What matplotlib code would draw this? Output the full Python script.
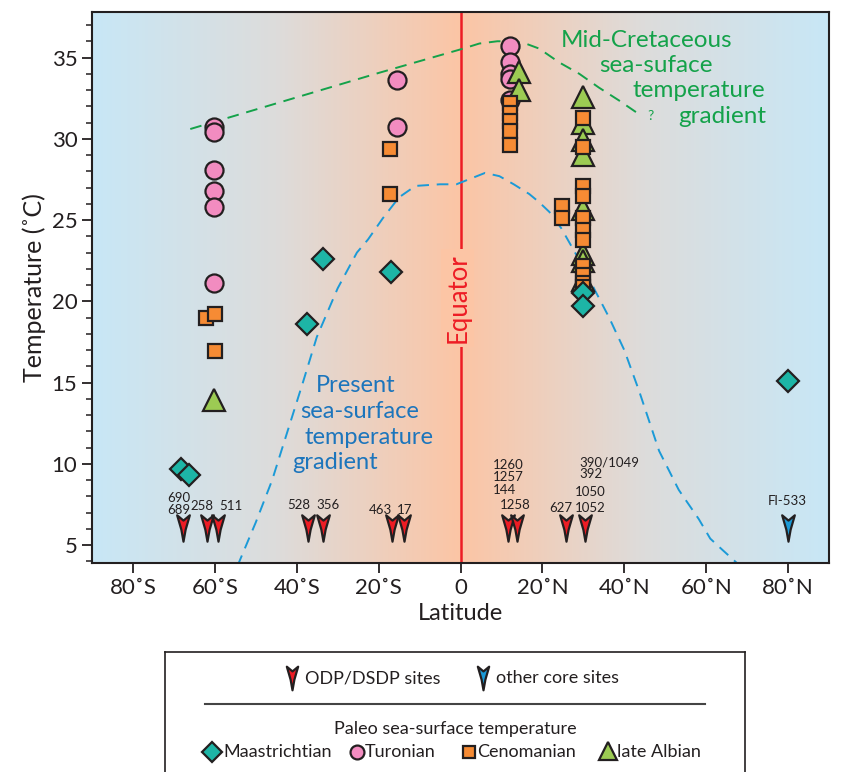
import matplotlib.pyplot as plt
import numpy as np
from matplotlib.colors import LinearSegmentedColormap
from matplotlib.path import Path
from matplotlib.ticker import MultipleLocator

plt.rcParams['font.family'] = ['Lato', 'DejaVu Sans']

# paleo sea-surface temperatures (latitude in deg, + = N)
maas_lat = [-68.2, -66.4, -37.5, -33.6, -17.0, 30.0, 30.0, 79.9]
maas_temp = [9.7, 9.3, 18.6, 22.6, 21.8, 20.5, 19.7, 15.1]

turo_lat = [-60.1, -60.1, -60.1, -60.1, -60.1, -60.1, -15.6, -15.6, 12.0, 12.0, 12.0, 12.0, 12.0]
turo_temp = [30.7, 30.4, 28.1, 26.8, 25.8, 21.1, 33.6, 30.75, 35.7, 34.7, 34.0, 33.7, 32.4]

ceno_lat = [-62.2, -59.9, -59.9, -17.3, -17.3,
            12.0, 12.0, 12.0, 12.0, 12.0, 24.8, 24.8,
            30.0, 30.0, 30.0, 30.0, 30.0, 30.0, 30.0, 30.0, 30.0, 30.0, 30.0]
ceno_temp = [18.95, 19.25, 16.95, 29.4, 26.6,
             32.2, 31.6, 31.1, 30.5, 29.6, 25.85, 25.15,
             31.3, 29.5, 27.1, 26.5, 25.15, 24.4, 23.75, 22.2, 21.6, 21.15, 20.9]

alb_lat = [-60.1, 14.4, 14.4, 30.0, 30.0, 30.0, 30.0, 30.0, 30.0, 30.0, 30.0]
alb_temp = [13.9, 34.1, 33.0, 32.6, 31.0, 29.9, 29.0, 25.7, 22.9, 22.5, 21.3]

# core sites
odp_lat = [-67.8, -61.8, -59.2, -37.2, -33.6, -16.8, -13.9, 11.7, 13.9, 25.8, 30.4]
other_lat = [79.9]
site_temp = 6.05

# gradients
cret_lat = [-66, -40, -20, 0, 4.6, 9, 12.7, 16, 19.2, 24.1, 29, 33.8, 38.7, 43.1]
cret_temp = [30.6, 32.55, 34.05, 35.5, 35.86, 36.0, 36.0, 35.85, 35.55, 34.7, 34.0, 33.15, 32.36, 31.6]

pres_lat = [-54.5, -50, -46, -42, -38.5, -35.1, -30, -25.3, -22.6, -19, -15, -11, -5, -1, 3, 6,
            9.5, 13, 16.8, 19.2, 21.7, 24.6, 27.3, 30, 33, 36.3, 40, 43.6, 48.5, 53.3, 58.2, 61, 64, 67.5]
pres_temp = [3.7, 6.4, 9.0, 12.2, 15.0, 17.8, 20.8, 23.0, 23.8, 25.1, 26.4, 27.1, 27.2, 27.2, 27.6, 27.9,
             27.7, 27.2, 26.6, 26.1, 25.5, 24.5, 23.3, 22.1, 20.6, 19.0, 17.0, 14.5, 10.8, 8.4, 6.6, 5.4, 4.7, 3.9]

xticks = [-80, -60, -40, -20, 0, 20, 40, 60, 80]
xticklabels = ['80˚S', '60˚S', '40˚S', '20˚S', '0', '20˚N', '40˚N', '60˚N', '80˚N']

ink = '#231f20'
c_maas = '#1db5a6'
c_turo = '#f28cc0'
c_ceno = '#f68b34'
c_alb = '#9ccb53'
c_red = '#ed1c24'
c_blue = '#1b9ad7'
c_green = '#14a24a'
c_ptext = '#1c75bc'

site_marker = Path([(-0.24, 0.5), (0, 0.3), (0.24, 0.5), (0.08, -0.05), (0, -0.5), (-0.08, -0.05), (-0.24, 0.5)],
                   [Path.MOVETO, Path.LINETO, Path.LINETO, Path.LINETO, Path.LINETO, Path.LINETO, Path.CLOSEPOLY])

ylo, yhi = 3.9, 37.8

fig = plt.figure(figsize=(8.41, 7.72), dpi=100)
ax = fig.add_axes([92/841, 1-563/772, (829-92)/841, (563-12)/772])

bg = LinearSegmentedColormap.from_list('bg', [(0, '#c8e7f6'), (0.25, '#dddcdb'), (0.5, '#fcc5a5'),
                                              (0.75, '#dddcdb'), (1, '#c8e7f6')])
ax.imshow(np.linspace(0, 1, 500).reshape(1, -1), cmap=bg, extent=[-90, 90, ylo, yhi],
          aspect='auto', zorder=0)

ax.axvline(0, color=c_red, lw=1.8, zorder=1)
ax.text(-0.7, 20.2, 'Equator', rotation=90, color=c_red, fontsize=18.5, ha='center', va='center',
        bbox=dict(facecolor='#fcc5a5', edgecolor='none', pad=3), zorder=2)

ax.plot(cret_lat, cret_temp, color=c_green, lw=1.4, dashes=(6, 4), zorder=2)
ax.plot(pres_lat, pres_temp, color=c_blue, lw=1.4, dashes=(6, 4), zorder=2)

mk = dict(ls='none', mec=ink, mew=1.6)
ax.plot(turo_lat, turo_temp, marker='o', ms=13, mfc=c_turo, zorder=3, **mk)
ax.plot(alb_lat, alb_temp, marker='^', ms=16, mfc=c_alb, zorder=4, **mk)
ax.plot(ceno_lat, ceno_temp, marker='s', ms=10.5, mfc=c_ceno, zorder=5, **mk)
ax.plot(maas_lat, maas_temp, marker='D', ms=11.5, mfc=c_maas, zorder=6, **mk)

ax.plot(odp_lat, [site_temp] * len(odp_lat), marker=site_marker, ms=19, mfc=c_red, zorder=6, **mk)
ax.plot(other_lat, [site_temp] * len(other_lat), marker=site_marker, ms=19, mfc=c_blue, zorder=6, **mk)

site_labels = [('690', -68.9, 7.9, 'center'), ('689', -68.9, 7.15, 'center'),
               ('258', -63.1, 7.4, 'center'), ('511', -56.2, 7.4, 'center'),
               ('528', -39.4, 7.46, 'center'), ('356', -32.4, 7.46, 'center'),
               ('463', -19.5, 7.15, 'center'), ('17', -13.6, 7.15, 'center'),
               ('1260', 7.8, 9.9, 'left'), ('1257', 7.8, 9.2, 'left'), ('144', 7.8, 8.4, 'left'),
               ('1258', 13.4, 7.46, 'center'),
               ('390/1049', 29.0, 10.1, 'left'), ('392', 29.0, 9.37, 'left'),
               ('1050', 31.7, 8.26, 'center'), ('627', 24.6, 7.3, 'center'),
               ('1052', 31.7, 7.3, 'center'), ('Fl-533', 79.9, 7.7, 'center')]
for s, x, y, ha in site_labels:
    ax.text(x, y, s, fontsize=9.5, color=ink, ha=ha, va='center', zorder=7)

for s, x, y in [('Mid-Cretaceous', 24.6, 36.05), ('sea-suface', 33.8, 34.5),
                ('temperature', 41.9, 33.0), ('gradient', 53.3, 31.4)]:
    ax.text(x, y, s, fontsize=17.5, color=c_green, ha='left', va='center', zorder=7)
ax.text(46.5, 31.4, '?', fontsize=10, color=c_green, ha='center', va='center', zorder=7)

for s, x, y in [('Present', -35.3, 14.8), ('sea-surface', -39.2, 13.2),
                ('temperature', -38.0, 11.6), ('gradient', -41.1, 10.1)]:
    ax.text(x, y, s, fontsize=17, color=c_ptext, ha='left', va='center', zorder=7)

ax.set_xlim(-90, 90)
ax.set_ylim(ylo, yhi)
ax.set_xticks(xticks)
ax.set_xticklabels(xticklabels)
ax.set_yticks([5, 10, 15, 20, 25, 30, 35])
ax.yaxis.set_minor_locator(MultipleLocator(1))
ax.tick_params(direction='out', length=7, width=1.3, labelsize=16, colors=ink)
ax.tick_params(which='minor', direction='out', length=4, width=1.1, colors=ink)
for sp in ax.spines.values():
    sp.set_color(ink)
    sp.set_linewidth(1.5)
ax.set_xlabel('Latitude', fontsize=17, color=ink, labelpad=4)
ax.set_ylabel('Temperature (˚C)', fontsize=18, color=ink, labelpad=4)

# legend box
lax = fig.add_axes([165/841, -0.02, (745-165)/841, (772-652)/772 + 0.02])
lax.set_xlim(165, 745)
lax.set_ylim(772 + 0.02*772, 652)
lax.set_xticks([])
lax.set_yticks([])
for sp in lax.spines.values():
    sp.set_color(ink)
    sp.set_linewidth(1.2)

lax.plot([292], [678], marker=site_marker, ms=17, mfc=c_red, **mk)
lax.text(305, 678, 'ODP/DSDP sites', fontsize=13, color=ink, va='center')
lax.plot([483], [678], marker=site_marker, ms=17, mfc=c_blue, **mk)
lax.text(496, 678, 'other core sites', fontsize=13, color=ink, va='center')
lax.plot([205, 705], [704, 704], color='#444444', lw=1.5)
lax.text(455, 729, 'Paleo sea-surface temperature', fontsize=13, color=ink, ha='center', va='center')
lax.plot([212], [752], marker='D', ms=10, mfc=c_maas, **mk)
lax.text(223, 752, 'Maastrichtian', fontsize=13, color=ink, va='center')
lax.plot([357], [752], marker='o', ms=10, mfc=c_turo, **mk)
lax.text(365, 752, 'Turonian', fontsize=13, color=ink, va='center')
lax.plot([469], [752], marker='s', ms=8, mfc=c_ceno, **mk)
lax.text(477, 752, 'Cenomanian', fontsize=13, color=ink, va='center')
lax.plot([608], [751], marker='^', ms=13, mfc=c_alb, **mk)
lax.text(617, 752, 'late Albian', fontsize=13, color=ink, va='center')

fig.savefig('out.png', dpi=100)
